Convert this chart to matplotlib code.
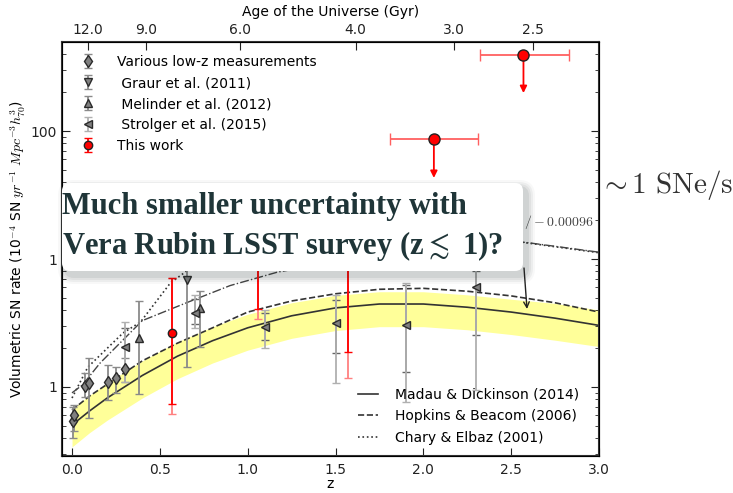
import numpy as np
import matplotlib
matplotlib.use("Agg")
import matplotlib.pyplot as plt
from matplotlib.patches import FancyBboxPatch

plt.rcParams['mathtext.fontset'] = 'cm'
plt.rcParams['font.size'] = 10

# ---------------- data ----------------
# model curves (z grid and rates in 1e-4 SN/yr/Mpc^3)
z_mod = [0.0, 0.1, 0.2, 0.4, 0.6, 0.8, 1.0, 1.25, 1.5, 1.75, 2.0, 2.25, 2.5, 2.75, 3.0]
madau = [0.505, 0.65, 0.82, 1.23, 1.74, 2.3, 2.9, 3.6, 4.15, 4.45, 4.45, 4.2, 3.85, 3.45, 3.03]
band_hi = [0.68, 0.86, 1.08, 1.6, 2.25, 2.95, 3.7, 4.55, 5.2, 5.55, 5.55, 5.25, 4.85, 4.5, 4.0]
band_lo = [0.34, 0.44, 0.55, 0.82, 1.16, 1.54, 1.94, 2.4, 2.76, 2.96, 2.96, 2.8, 2.57, 2.32, 2.07]
hopkins = [0.66, 0.85, 1.05, 1.6, 2.2, 2.9, 3.85, 4.7, 5.35, 5.8, 5.9, 5.6, 5.15, 4.55, 3.85]

z_chary = [0.0, 0.09, 0.29, 0.39, 0.56, 0.66, 0.9, 1.3, 1.8, 2.3, 2.6, 3.0]
chary = [0.82, 1.43, 2.64, 3.22, 6.5, 8.2, 12, 16, 17, 15, 13.3, 11.2]
z_dd = [0.0, 0.06, 0.16, 0.4, 0.66, 0.9, 1.17, 1.3, 1.6, 2.0, 2.3, 2.58, 3.0]
dashdot = [0.9, 1.04, 1.54, 3.3, 4.6, 6.2, 7.9, 8.5, 10.5, 12.5, 13.5, 13.5, 11.3]

# various low-z measurements
lowz_z = [0.005, 0.01, 0.074, 0.094, 0.205, 0.25, 0.30]
lowz_v = [0.543, 0.604, 1.02, 1.075, 1.094, 1.176, 1.382]
lowz_lo = [0.40, 0.45, 0.835, 0.573, 0.79, 0.898, 1.094]
lowz_hi = [0.70, 0.72, 1.286, 1.685, 1.485, 1.43, 1.685]

graur_z = [0.655]
graur_v = [6.85]
graur_lo = [1.43]
graur_hi = [12.0]

mel_z = [0.38, 0.73]
mel_v = [2.41, 4.14]
mel_lo = [0.88, 2.05]
mel_hi = [4.7, 5.62]

str_z = [0.30, 0.70, 1.10, 1.50, 1.90, 2.30]
str_v = [2.05, 3.79, 2.94, 3.16, 3.05, 6.04]
str_lo = [1.094, 2.89, 2.02, 1.075, 0.764, 0.947]
str_hi = [3.22, 5.24, 4.0, 5.24, 6.5, 9.0]
str_stat_lo = [1.4, 3.1, 2.33, 1.84, 1.31, 2.55]
str_stat_hi = [2.9, 4.9, 3.8, 4.77, 6.27, 8.0]

# this work
tw_z = [0.57, 1.06, 1.57]
tw_v = [2.64, 20.0, 22.0]
tw_lo = [0.615, 3.4, 1.18]
tw_stat_lo = [0.737, 4.07, 1.88]
tw_hi = [7.1, 35.0, 35.0]

lim_z = [2.06, 2.57]
lim_v = [87.0, 392.0]
lim_xlo = [0.25, 0.25]
lim_xhi = [0.25, 0.26]
lim_end = [43.0, 198.0]

age_z = [0.091, 0.422, 0.958, 1.614, 2.173, 2.624]
age_lab = ['12.0', '9.0', '6.0', '4.0', '3.0', '2.5']

# ---------------- plot ----------------
fig = plt.figure(figsize=(7.33, 4.93), dpi=100)
ax = fig.add_axes([62/733, 37/493, 537/733, 414/493])

ax.fill_between(z_mod, band_lo, band_hi, color='#ffff99', lw=0, zorder=1)
ax.plot(z_mod, madau, '-', color='#333333', lw=1.2, label='Madau & Dickinson (2014)', zorder=2)
ax.plot(z_mod, hopkins, '--', color='#333333', lw=1.2, label='Hopkins & Beacom (2006)', zorder=2)
ax.plot(z_chary, chary, ':', color='#333333', lw=1.2, label='Chary & Elbaz (2001)', zorder=2)
ax.plot(z_dd, dashdot, '-.', color='#444444', lw=1.0, zorder=2)

gkw = dict(color='#7f7f7f', mec='#2a2a2a', mfc='#808080', ecolor='#8a8a8a',
           capsize=3, elinewidth=1.3, ms=6, zorder=4)


def yerr(v, lo, hi):
    v = np.array(v)
    return [v - np.array(lo), np.array(hi) - v]


h1 = ax.errorbar(lowz_z, lowz_v, yerr=yerr(lowz_v, lowz_lo, lowz_hi), fmt='d', **gkw)
h2 = ax.errorbar(graur_z, graur_v, yerr=yerr(graur_v, graur_lo, graur_hi), fmt='v', **gkw)
h3 = ax.errorbar(mel_z, mel_v, yerr=yerr(mel_v, mel_lo, mel_hi), fmt='^', **gkw)
ax.errorbar(str_z, str_v, yerr=yerr(str_v, str_stat_lo, str_stat_hi), fmt='none',
            ecolor='#666666', capsize=3, elinewidth=1.3, zorder=3)
h4 = ax.errorbar(str_z, str_v, yerr=yerr(str_v, str_lo, str_hi), fmt='<',
                 **dict(gkw, ecolor='#b0b0b0'))

ax.errorbar(tw_z, tw_v, yerr=yerr(tw_v, tw_lo, tw_hi), fmt='none',
            ecolor='#ff8080', capsize=3, elinewidth=1.3, zorder=4)
h5 = ax.errorbar(tw_z, tw_v, yerr=yerr(tw_v, tw_stat_lo, tw_hi), fmt='o',
                 color='red', mfc='red', mec='#222222', ecolor='red',
                 capsize=3, elinewidth=1.3, ms=6, zorder=5)
ax.errorbar(lim_z, lim_v, xerr=[lim_xlo, lim_xhi], fmt='o', color='red', mfc='red',
            mec='#222222', ecolor='#ff6060', capsize=4, elinewidth=1.3, ms=8, zorder=5)
for zz, v, e in zip(lim_z, lim_v, lim_end):
    ax.annotate('', xy=(zz, e), xytext=(zz, v),
                arrowprops=dict(arrowstyle='-|>', color='red', lw=1.3,
                                mutation_scale=10, shrinkA=0, shrinkB=0), zorder=4)

ax.set_yscale('log')
ax.set_xlim(-0.057, 3.0)
ax.set_ylim(0.289, 496)
ax.set_xticks(np.arange(0, 3.01, 0.5))
ax.set_yticks([1, 10, 100])
ax.set_yticklabels(['1', '1', '100'])
ax.tick_params(which='both', direction='in', right=True, top=False, colors='#222222')
ax.tick_params(axis='x', pad=5)
ax.tick_params(which='major', length=6)
ax.tick_params(which='minor', length=3)
for s in ax.spines.values():
    s.set_linewidth(1.5)
    s.set_color('#333333')
ax.set_xlabel('z', labelpad=0)
ax.set_ylabel(r'Volumetric SN rate (10$^{-4}$ SN $yr^{-1}$ $Mpc^{-3}h_{70}^{3}$)', labelpad=2)

ax2 = ax.twiny()
ax2.set_xlim(ax.get_xlim())
ax2.set_xticks(age_z)
ax2.set_xticklabels(age_lab)
ax2.tick_params(direction='in', length=6, colors='#222222')
ax2.set_xlabel('Age of the Universe (Gyr)', labelpad=5)

leg1 = ax.legend([h1, h2, h3, h4, h5],
                 ['Various low-z measurements', ' Graur et al. (2011)',
                  ' Melinder et al. (2012)', ' Strolger et al. (2015)', 'This work'],
                 loc='upper left', bbox_to_anchor=(0.033, 0.968), frameon=False,
                 numpoints=1, handlelength=1.2, handletextpad=1.45,
                 labelspacing=0.5, borderpad=0, borderaxespad=0)
ax.add_artist(leg1)
ax.legend(loc='upper left', bbox_to_anchor=(0.551, 0.165), frameon=False,
          handlelength=1.45, handletextpad=1.2, labelspacing=0.55,
          borderpad=0, borderaxespad=0)

# overlay in pixel coords (y down) for the callout
ov = fig.add_axes([0, 0, 1, 1], zorder=10)
ov.set_xlim(0, 733)
ov.set_ylim(493, 0)
ov.axis('off')
ov.patch.set_visible(False)

ov.text(524, 226, r'$/-0.00096$', fontsize=10, color='#444444', va='baseline', zorder=1)

bx, by, bw, bh = 62, 183, 461, 88
for p, a in [(8, 0.03), (6, 0.05), (4, 0.06), (2, 0.08)]:
    ov.add_patch(FancyBboxPatch((bx + 4, by + 5), bw, bh,
                                boxstyle=f'round,pad={p},rounding_size={8 + p}',
                                fc='#203030', ec='none', alpha=a, zorder=2))
ov.add_patch(FancyBboxPatch((bx, by), bw, bh, boxstyle='round,pad=0,rounding_size=8',
                            fc='white', ec='none', zorder=3))
tfam = ['Liberation Serif', 'DejaVu Serif']
ov.text(62, 214, 'Much smaller uncertainty with', fontsize=22, fontweight='bold',
        family=tfam, color='#1f3538', va='baseline', zorder=4)
ov.text(62, 254, r'Vera Rubin LSST survey (z$\lesssim$ 1)?', fontsize=22, fontweight='bold',
        family=tfam, color='#1f3538', va='baseline', zorder=4)

ov.annotate('', xy=(527, 309), xytext=(524, 268),
            arrowprops=dict(arrowstyle='->', color='#222222', lw=1.0, shrinkA=0, shrinkB=0))

ov.text(599, 193, r'$\sim 1\ \mathrm{SNe/s}$', fontsize=21, color='#333333',
        va='baseline', zorder=4)

fig.savefig('out.png', dpi=100)
